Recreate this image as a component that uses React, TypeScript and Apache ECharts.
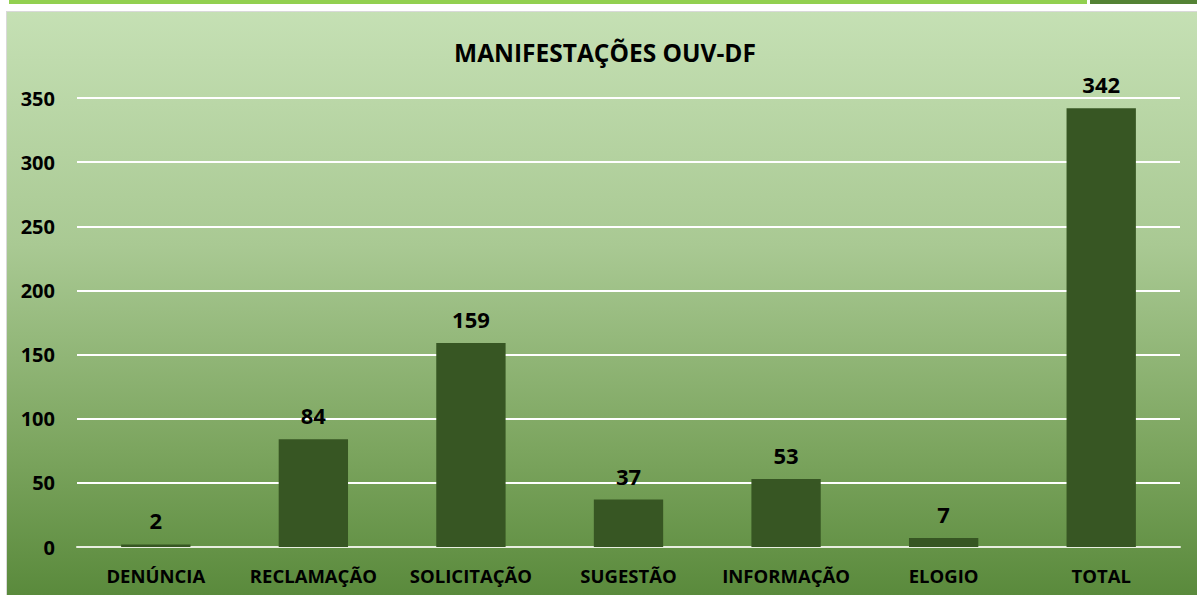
import React, { useEffect, useRef } from "react";
import * as echarts from "echarts";

const categories = ["DENÚNCIA", "RECLAMAÇÃO", "SOLICITAÇÃO", "SUGESTÃO", "INFORMAÇÃO", "ELOGIO", "TOTAL"];
const values = [2, 84, 159, 37, 53, 7, 342];
const yTicks = [0, 50, 100, 150, 200, 250, 300, 350];

export default function App() {
  const ref = useRef<HTMLDivElement>(null);
  useEffect(() => {
    document.body.style.margin = "0";
    const chart = echarts.init(ref.current!, null, { renderer: "svg" });
    const font = "'Open Sans', Lato, sans-serif";
    chart.setOption({
      animation: false,
      title: {
        text: "MANIFESTAÇÕES OUV-DF",
        left: 600,
        textAlign: "center",
        top: 35,
        textStyle: { fontFamily: font, fontWeight: "bold", fontSize: 24.5, color: "#000" },
      },
      grid: { left: 77, right: 17, top: 98, bottom: 48, containLabel: false },
      xAxis: {
        type: "category",
        data: categories,
        axisLine: { lineStyle: { color: "#e8eee0", width: 2 } },
        axisTick: { show: false },
        axisLabel: { interval: 0, margin: 19, fontFamily: font, fontWeight: "bold", fontSize: 18.5, color: "#000" },
      },
      yAxis: {
        type: "value",
        min: 0,
        max: yTicks[yTicks.length - 1],
        interval: 50,
        axisLine: { show: false },
        axisTick: { show: false },
        splitLine: { lineStyle: { color: "#ffffff", width: 2 } },
        axisLabel: { margin: 22, fontFamily: font, fontWeight: "bold", fontSize: 20, color: "#000" },
      },
      series: [
        {
          type: "bar",
          data: values,
          barWidth: "44%",
          itemStyle: { color: "#375623" },
          label: {
            show: true,
            position: "top",
            distance: 13,
            fontFamily: font,
            fontWeight: "bold",
            fontSize: 22,
            color: "#000",
          },
        },
      ],
    });
    return () => chart.dispose();
  }, []);

  return (
    <div style={{ position: "absolute", left: 0, top: 0, width: 1197, height: 595, background: "#fff", overflow: "hidden" }}>
      <div style={{ position: "absolute", left: 9, top: 0, width: 1078, height: 4, background: "#92d050" }} />
      <div style={{ position: "absolute", left: 1090, top: 0, width: 107, height: 4, background: "#548235" }} />
      <div
        style={{
          position: "absolute",
          left: 6,
          top: 11,
          width: 1191,
          height: 584,
          borderTop: "1px solid #d9d9d9",
          borderLeft: "1px solid #d9d9d9",
          boxSizing: "border-box",
          background: "linear-gradient(to bottom, #c5e0b4 0%, #a9c993 40%, #7ca55f 75%, #5a8a3c 100%)",
        }}
      />
      <div ref={ref} style={{ position: "absolute", left: 0, top: 0, width: 1197, height: 595 }} />
    </div>
  );
}
